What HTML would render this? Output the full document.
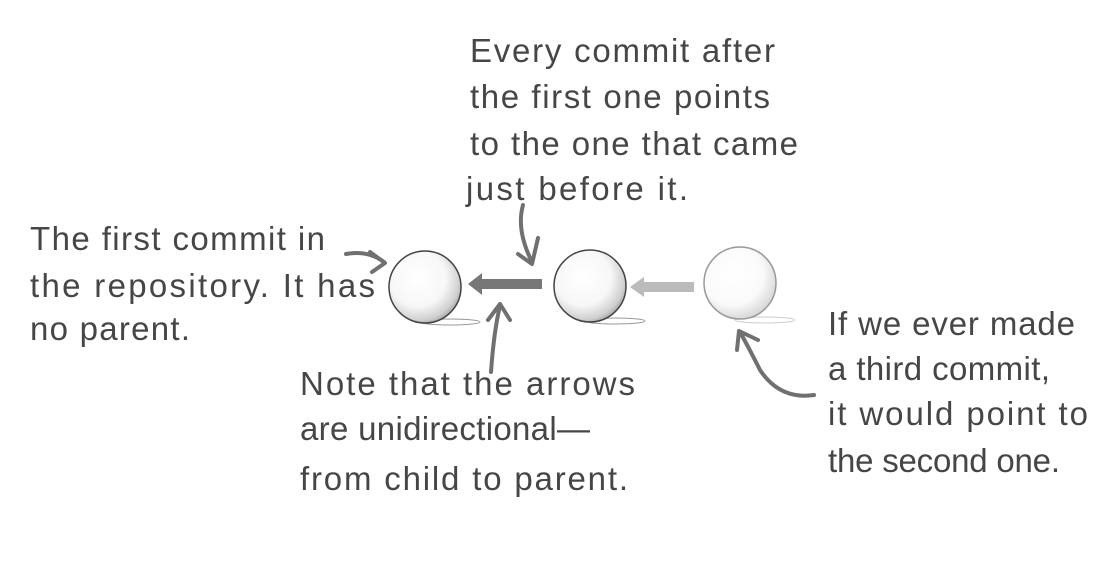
<!DOCTYPE html>
<html><head><style>
html,body{margin:0;padding:0;background:#fff;}
svg{display:block}
text{font-family:"Liberation Sans",sans-serif;font-size:33px;fill:#464646;}
</style></head><body>
<svg width="1108" height="564" viewBox="0 0 1108 564">
<defs>
<radialGradient id="g" cx="0.4" cy="0.38" r="0.65">
<stop offset="0" stop-color="#fff"/><stop offset="0.6" stop-color="#f7f7f7"/><stop offset="0.9" stop-color="#cfcfcf"/><stop offset="1" stop-color="#aaa"/>
</radialGradient>
<radialGradient id="g2" cx="0.4" cy="0.38" r="0.65">
<stop offset="0" stop-color="#fff"/><stop offset="0.65" stop-color="#fafafa"/><stop offset="1" stop-color="#d6d6d6"/>
</radialGradient>
</defs>
<ellipse cx="450" cy="322" rx="30" ry="3" fill="none" stroke="#999" stroke-width="1"/>
<ellipse cx="615" cy="321" rx="30" ry="3" fill="none" stroke="#999" stroke-width="1"/>
<ellipse cx="765" cy="320" rx="30" ry="3" fill="none" stroke="#ccc" stroke-width="1"/>
<circle cx="425" cy="287" r="36" fill="url(#g)" stroke="#444" stroke-width="1.5"/>
<circle cx="590" cy="286" r="36" fill="url(#g)" stroke="#444" stroke-width="1.5"/>
<circle cx="740" cy="283" r="36" fill="url(#g2)" stroke="#999" stroke-width="1.5"/>
<rect x="480" y="279" width="62" height="10" fill="#777"/>
<polygon points="468,284 482,273 482,295" fill="#777"/>
<rect x="643" y="282" width="51" height="10" fill="#bbb"/>
<polygon points="630,287 644,277 644,297" fill="#bbb"/>
<g fill="none" stroke="#707070" stroke-width="4" stroke-linecap="round" stroke-linejoin="round">
<path d="M346,254 Q368,250 384,262"/><path d="M370,252 L385,263 L372,272"/>
<path d="M523,205 Q516,230 532,262"/><path d="M518,254 L532,264 L538,238"/>
<path d="M491,372 Q494,330 500,306"/><path d="M488,320 L500,304 L510,320"/>
<path d="M814,395 Q780,400 760,370 Q750,350 740,332"/><path d="M737,350 L739,331 L758,340"/>
</g>
<text x="470" y="62" textLength="305">Every commit after</text>
<text x="470" y="108" textLength="300">the first one points</text>
<text x="470" y="155" textLength="328">to the one that came</text>
<text x="466" y="200" textLength="222">just before it.</text>
<text x="30" y="250" textLength="295">The first commit in</text>
<text x="30" y="297" textLength="345">the repository. It has</text>
<text x="30" y="340" textLength="160">no parent.</text>
<text x="300" y="395" textLength="335">Note that the arrows</text>
<text x="300" y="440" textLength="290">are unidirectional—</text>
<text x="300" y="490" textLength="328">from child to parent.</text>
<text x="828" y="335" textLength="247">If we ever made</text>
<text x="828" y="380" textLength="222">a third commit,</text>
<text x="828" y="425" textLength="260">it would point to</text>
<text x="828" y="472" textLength="232">the second one.</text>
</svg>
</body></html>
